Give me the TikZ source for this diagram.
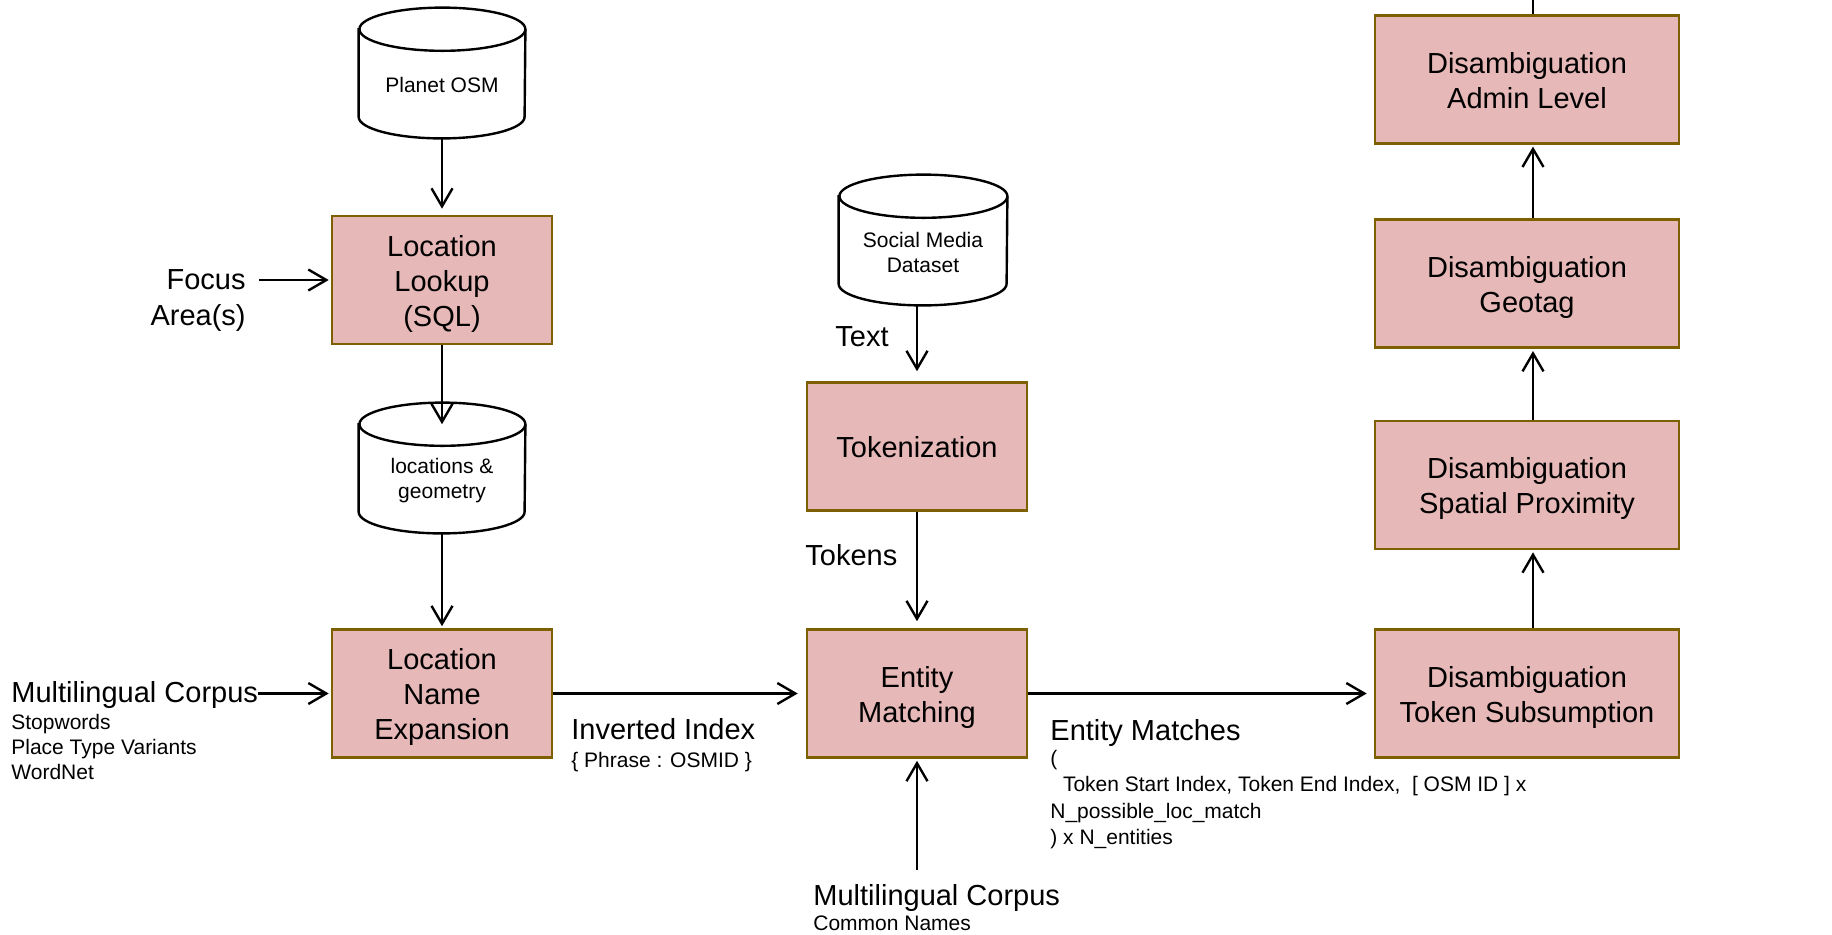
\documentclass[tikz,border=0pt]{standalone}
\usepackage{fontspec}
\setmainfont{Liberation Sans}
\usetikzlibrary{arrows.meta}
\definecolor{boxfill}{RGB}{230,184,183}
\definecolor{boxedge}{RGB}{127,96,0}
\newcommand\fbig{\fontsize{14.5}{17.5}\selectfont}
\newcommand\fsml{\fontsize{10.5}{12.5}\selectfont}
\newcommand\bxt[1]{\fbig\begin{tabular}[b]{@{}c@{}}#1\end{tabular}}
\newcommand\dbsym[2]{%
  \filldraw[dbline,fill=white] ([yshift=-10.8pt]#1.north west) -- ([yshift=10.8pt]#1.south west)
    arc[start angle=180,end angle=360,x radius=#2,y radius=10.8pt] -- ([yshift=-10.8pt]#1.north east)
    arc[start angle=0,end angle=180,x radius=#2,y radius=10.8pt] -- cycle;
  \draw[dbline] ([yshift=-10.8pt]#1.north east) arc[start angle=0,end angle=-180,x radius=#2,y radius=10.8pt];}
\tikzset{
  procbox/.style={draw=boxedge,fill=boxfill,line width=1.3pt,minimum width=110pt,minimum height=64pt,font=\fbig,inner sep=0pt,text depth=0.85pt},
  disbox/.style={procbox,minimum width=152pt},
  dbnode/.style={minimum height=65pt,inner sep=0pt},
  dbtext/.style={font=\fsml,align=center,inner sep=0pt},
  dbline/.style={line width=1.2pt,draw=black},
  conn/.style={line width=1.2pt,draw=black},
  arr/.style={conn,-{Straight Barb[length=9pt,width=10.5pt]},shorten >=1pt},
  bigtxt/.style={font=\fbig,inner sep=0pt},
  smltxt/.style={font=\fsml,inner sep=0pt}
}
\begin{document}
\begin{tikzpicture}[x=0.5pt,y=-0.5pt]
\path[use as bounding box] (0,0) rectangle (1832,934);
% databases
\node[dbnode,minimum width=83pt] (osm) at (442,73) {};
\dbsym{osm}{41.5pt}
\node[dbtext] (osmtext) at (442,85) {Planet OSM};
\node[dbnode,minimum width=83pt] (locdb) at (442,468) {};
\dbsym{locdb}{41.5pt}
\node[dbtext] (locdbtext) at (442,481) {locations \&\\geometry};
\node[dbnode,minimum width=84pt] (smdb) at (923,240) {};
\dbsym{smdb}{42pt}
\node[dbtext] (smdbtext) at (923,252) {Social Media\\Dataset};
% process boxes
\node[procbox] (lookup) at (442,280) {\bxt{Location\\Lookup\\(SQL)}};
\node[procbox] (lne) at (442,693.5) {\bxt{Location\\Name\\Expansion}};
\node[procbox] (tok) at (917,446.5) {\bxt{Tokenization}};
\node[procbox] (em) at (917,693.5) {\bxt{Entity\\Matching}};
\node[disbox] (ts) at (1527,693.5) {\bxt{Disambiguation\\Token Subsumption}};
\node[disbox] (sp) at (1527,485) {\bxt{Disambiguation\\Spatial Proximity}};
\node[disbox] (geo) at (1527,283.7) {\bxt{Disambiguation\\Geotag}};
\node[disbox] (admin) at (1527,79.3) {\bxt{Disambiguation\\Admin Level}};
% labels
\node[bigtxt,anchor=base east] (focus) at (246,289.5) {\fbig\begin{tabular}[t]{@{}r@{}}Focus\\[0.5pt]Area(s)\end{tabular}};
\node[bigtxt,anchor=base west] (mc1) at (11,702.4) {Multilingual Corpus};
\node[smltxt,anchor=base west] (mc1sub) at (11,729.5) {\fsml\begin{tabular}[t]{@{}l@{}}Stopwords\\Place Type Variants\\WordNet\end{tabular}};
\node[bigtxt,anchor=base west] (inv) at (571,739.4) {Inverted Index};
\node[smltxt,anchor=base west] (invsub) at (571,767.5) {\{ Phrase : OSMID \}};
\node[bigtxt,anchor=base west] (textlbl) at (835,346.4) {Text};
\node[bigtxt,anchor=base west] (tokenslbl) at (805,565.4) {Tokens};
\node[bigtxt,anchor=base west] (emlbl) at (1050,740.4) {Entity Matches};
\node[smltxt,anchor=base west] (emsub) at (1050,765) {\fontsize{10.5}{13.25}\selectfont\begin{tabular}[t]{@{}l@{}}(\\\hspace*{0.6em}Token Start Index, Token End Index,\ \ [ OSM ID ] x\\N\_possible\_loc\_match\\) x N\_entities\end{tabular}};
\node[bigtxt,anchor=base west] (mc2) at (813,905.4) {Multilingual Corpus};
\node[smltxt,anchor=base west] (mc2sub) at (813,930.5) {Common Names};
\coordinate (mc2top) at (917,870);
\coordinate (topout) at (1533,0);
% connectors
\draw[arr,shorten >=3pt] (osm.south) -- (lookup.north);
\draw[arr,shorten >=0pt] (lookup.south) -- ([yshift=-10.8pt]locdb.north);
\draw[arr] (locdb.south) -- (lne.north);
\draw[arr] ([xshift=6.5pt]focus.east |- lookup.west) -- (lookup.west);
\draw[arr] (mc1.east |- lne.west) -- (lne.west);
\draw[arr,shorten >=4pt] (lne.east) -- (em.west);
\draw[arr,shorten >=5pt] (smdb.south -| tok.north) -- (tok.north);
\draw[arr,shorten >=3.5pt] (tok.south) -- (em.north);
\draw[arr] (mc2top) -- (mc2top |- em.south);
\draw[arr,shorten >=3.5pt] (em.east) -- (ts.west);
\draw[arr] ([xshift=3pt]ts.north) -- ([xshift=3pt]sp.south);
\draw[arr] ([xshift=3pt]sp.north) -- ([xshift=3pt]geo.south);
\draw[arr] ([xshift=3pt]geo.north) -- ([xshift=3pt]admin.south);
\draw[conn] ([xshift=3pt]admin.north) -- (topout);
\end{tikzpicture}
\end{document}
